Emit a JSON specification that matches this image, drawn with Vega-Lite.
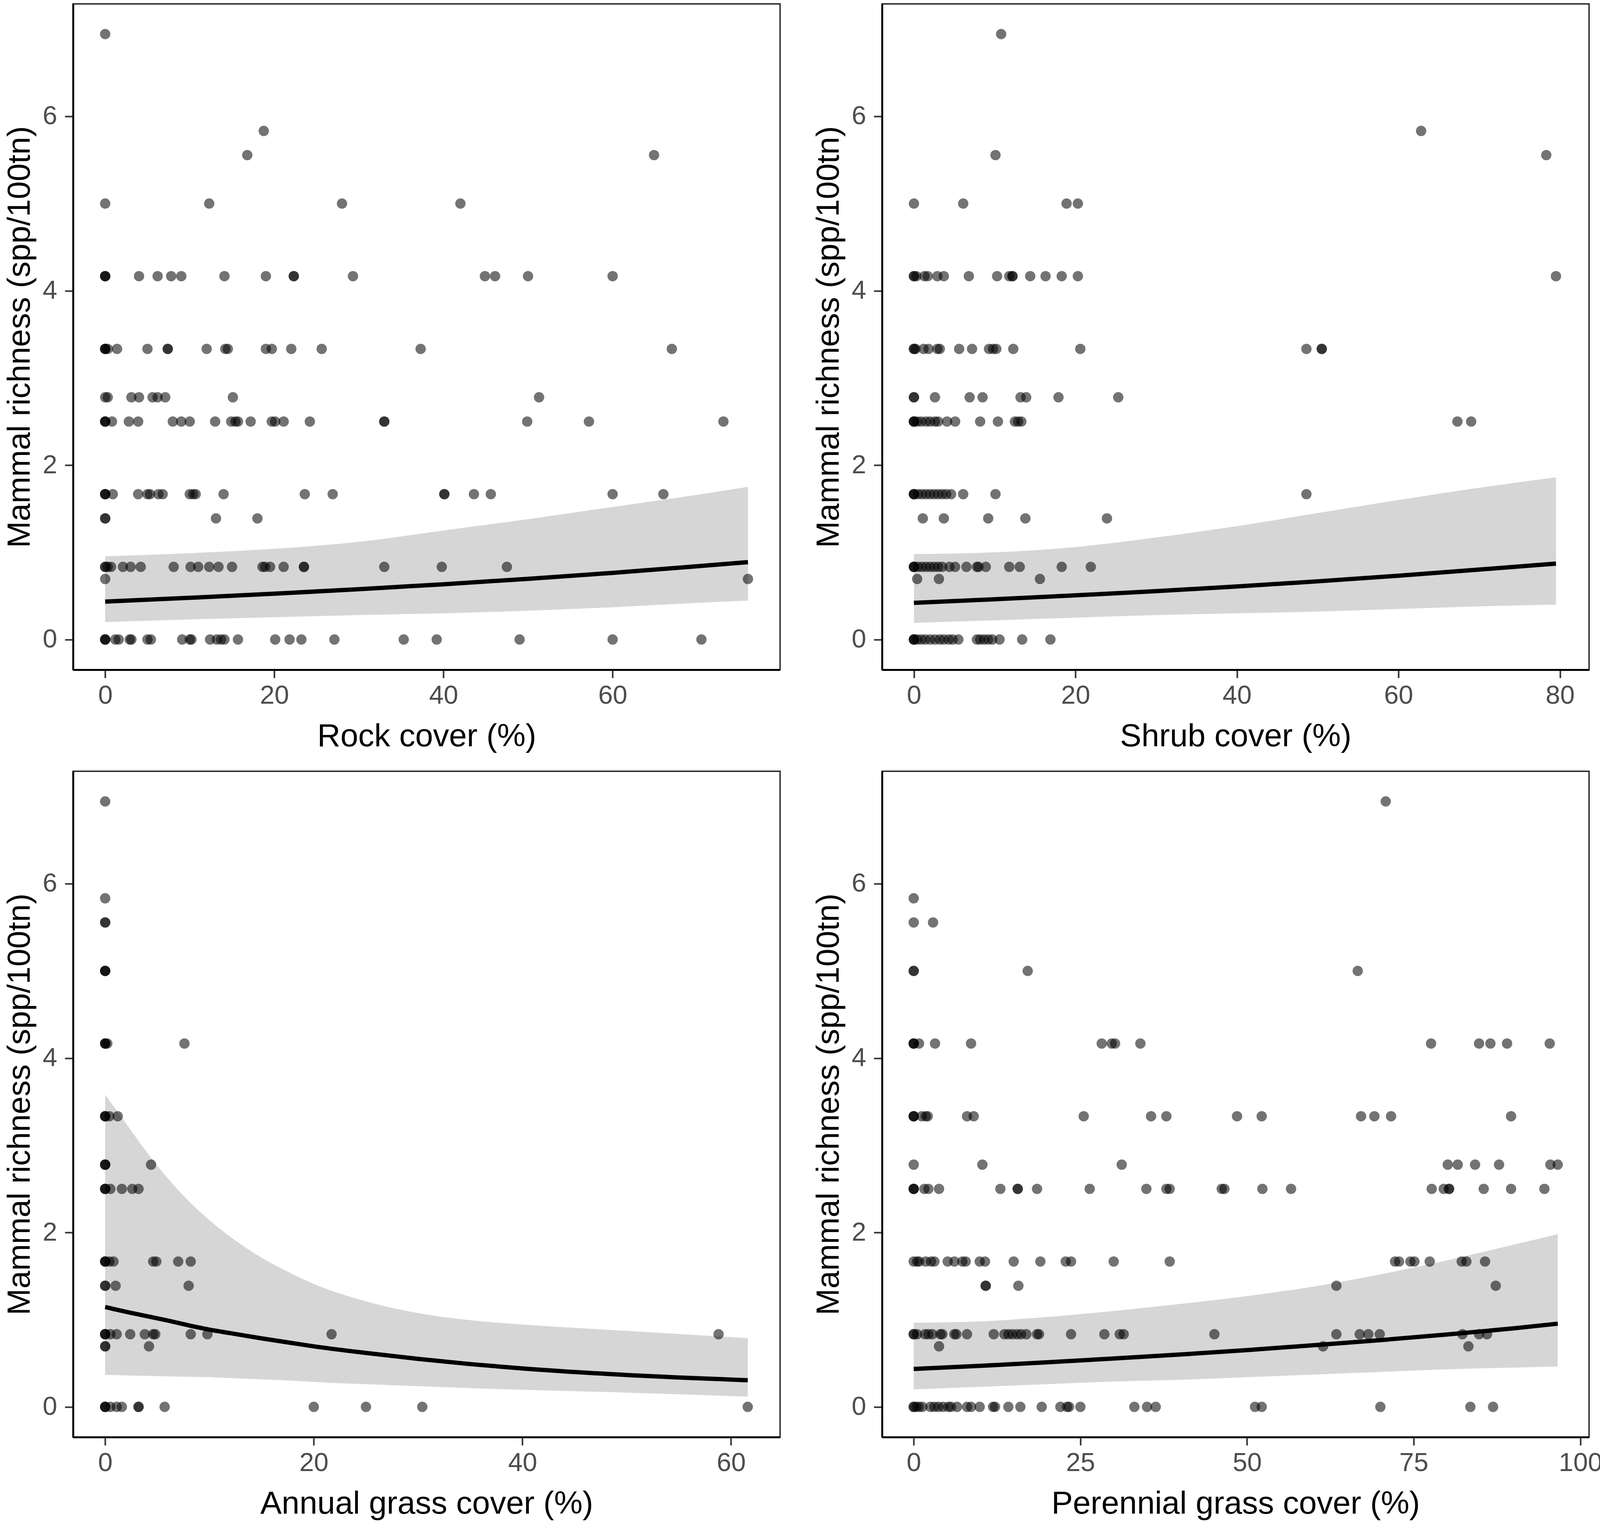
{
"$schema":"https://vega.github.io/schema/vega-lite/v6.json",
"background":"white",
"padding":{"left":8,"top":8,"right":2,"bottom":0},
"columns":2,
"spacing":{"row":45,"column":80},
"datasets":{
"pts":[
{"p":"r","x":0,"y":6.944},{"p":"r","x":18.75,"y":5.833},{"p":"r","x":16.8,"y":5.556},{"p":"r","x":64.9,"y":5.556},
{"p":"r","x":0,"y":5},{"p":"r","x":12.3,"y":5},{"p":"r","x":28,"y":5},{"p":"r","x":42,"y":5},
{"p":"r","x":0,"y":4.167},{"p":"r","x":0,"y":4.167},{"p":"r","x":0,"y":4.167},{"p":"r","x":4,"y":4.167},{"p":"r","x":6.2,"y":4.167},{"p":"r","x":7.8,"y":4.167},{"p":"r","x":9,"y":4.167},{"p":"r","x":14.1,"y":4.167},{"p":"r","x":19,"y":4.167},{"p":"r","x":22.3,"y":4.167},{"p":"r","x":22.3,"y":4.167},{"p":"r","x":29.3,"y":4.167},{"p":"r","x":44.9,"y":4.167},{"p":"r","x":46.1,"y":4.167},{"p":"r","x":50,"y":4.167},{"p":"r","x":60,"y":4.167},
{"p":"r","x":0,"y":3.333},{"p":"r","x":0,"y":3.333},{"p":"r","x":0,"y":3.333},{"p":"r","x":0.3,"y":3.333},{"p":"r","x":1.4,"y":3.333},{"p":"r","x":5,"y":3.333},{"p":"r","x":7.4,"y":3.333},{"p":"r","x":7.4,"y":3.333},{"p":"r","x":12,"y":3.333},{"p":"r","x":14.2,"y":3.333},{"p":"r","x":14.5,"y":3.333},{"p":"r","x":19,"y":3.333},{"p":"r","x":19.7,"y":3.333},{"p":"r","x":22,"y":3.333},{"p":"r","x":25.6,"y":3.333},{"p":"r","x":37.3,"y":3.333},{"p":"r","x":67,"y":3.333},
{"p":"r","x":0,"y":2.778},{"p":"r","x":0.3,"y":2.778},{"p":"r","x":3.1,"y":2.778},{"p":"r","x":4,"y":2.778},{"p":"r","x":5.6,"y":2.778},{"p":"r","x":6.2,"y":2.778},{"p":"r","x":7.1,"y":2.778},{"p":"r","x":15.1,"y":2.778},{"p":"r","x":51.3,"y":2.778},
{"p":"r","x":0,"y":2.5},{"p":"r","x":0,"y":2.5},{"p":"r","x":0,"y":2.5},{"p":"r","x":0.8,"y":2.5},{"p":"r","x":2.8,"y":2.5},{"p":"r","x":3.9,"y":2.5},{"p":"r","x":8,"y":2.5},{"p":"r","x":9,"y":2.5},{"p":"r","x":10,"y":2.5},{"p":"r","x":13,"y":2.5},{"p":"r","x":14.9,"y":2.5},{"p":"r","x":15.4,"y":2.5},{"p":"r","x":15.7,"y":2.5},{"p":"r","x":17.2,"y":2.5},{"p":"r","x":19.7,"y":2.5},{"p":"r","x":20.1,"y":2.5},{"p":"r","x":21.1,"y":2.5},{"p":"r","x":24.2,"y":2.5},{"p":"r","x":33,"y":2.5},{"p":"r","x":33,"y":2.5},{"p":"r","x":49.9,"y":2.5},{"p":"r","x":57.2,"y":2.5},{"p":"r","x":73.1,"y":2.5},
{"p":"r","x":0,"y":1.667},{"p":"r","x":0,"y":1.667},{"p":"r","x":0,"y":1.667},{"p":"r","x":0.9,"y":1.667},{"p":"r","x":3.9,"y":1.667},{"p":"r","x":5,"y":1.667},{"p":"r","x":5.3,"y":1.667},{"p":"r","x":6.3,"y":1.667},{"p":"r","x":6.8,"y":1.667},{"p":"r","x":10,"y":1.667},{"p":"r","x":10.4,"y":1.667},{"p":"r","x":10.7,"y":1.667},{"p":"r","x":14,"y":1.667},{"p":"r","x":23.6,"y":1.667},{"p":"r","x":26.9,"y":1.667},{"p":"r","x":40.1,"y":1.667},{"p":"r","x":40.1,"y":1.667},{"p":"r","x":43.6,"y":1.667},{"p":"r","x":45.6,"y":1.667},{"p":"r","x":60,"y":1.667},{"p":"r","x":66,"y":1.667},
{"p":"r","x":0,"y":1.389},{"p":"r","x":0,"y":1.389},{"p":"r","x":13.1,"y":1.389},{"p":"r","x":18,"y":1.389},
{"p":"r","x":0,"y":0.833},{"p":"r","x":0,"y":0.833},{"p":"r","x":0.3,"y":0.833},{"p":"r","x":0.7,"y":0.833},{"p":"r","x":2.1,"y":0.833},{"p":"r","x":3,"y":0.833},{"p":"r","x":4.2,"y":0.833},{"p":"r","x":8.1,"y":0.833},{"p":"r","x":10.1,"y":0.833},{"p":"r","x":11,"y":0.833},{"p":"r","x":12.3,"y":0.833},{"p":"r","x":13.4,"y":0.833},{"p":"r","x":15,"y":0.833},{"p":"r","x":18.6,"y":0.833},{"p":"r","x":18.9,"y":0.833},{"p":"r","x":19.5,"y":0.833},{"p":"r","x":21.1,"y":0.833},{"p":"r","x":23.5,"y":0.833},{"p":"r","x":23.5,"y":0.833},{"p":"r","x":33,"y":0.833},{"p":"r","x":39.8,"y":0.833},{"p":"r","x":47.5,"y":0.833},
{"p":"r","x":0,"y":0.694},{"p":"r","x":76,"y":0.694},
{"p":"r","x":0,"y":0},{"p":"r","x":0,"y":0},{"p":"r","x":0,"y":0},{"p":"r","x":1.2,"y":0},{"p":"r","x":1.6,"y":0},{"p":"r","x":2.9,"y":0},{"p":"r","x":3.1,"y":0},{"p":"r","x":5,"y":0},{"p":"r","x":5.4,"y":0},{"p":"r","x":9.1,"y":0},{"p":"r","x":10,"y":0},{"p":"r","x":10.2,"y":0},{"p":"r","x":12.4,"y":0},{"p":"r","x":13.2,"y":0},{"p":"r","x":13.7,"y":0},{"p":"r","x":14.1,"y":0},{"p":"r","x":15.7,"y":0},{"p":"r","x":20.1,"y":0},{"p":"r","x":21.8,"y":0},{"p":"r","x":23.2,"y":0},{"p":"r","x":27.1,"y":0},{"p":"r","x":35.3,"y":0},{"p":"r","x":39.2,"y":0},{"p":"r","x":49,"y":0},{"p":"r","x":60,"y":0},{"p":"r","x":70.5,"y":0},

{"p":"s","x":10.8,"y":6.944},{"p":"s","x":62.8,"y":5.833},{"p":"s","x":10.1,"y":5.556},{"p":"s","x":78.3,"y":5.556},
{"p":"s","x":0,"y":5},{"p":"s","x":6.1,"y":5},{"p":"s","x":18.9,"y":5},{"p":"s","x":20.3,"y":5},
{"p":"s","x":0,"y":4.167},{"p":"s","x":0,"y":4.167},{"p":"s","x":0.3,"y":4.167},{"p":"s","x":1.3,"y":4.167},{"p":"s","x":1.7,"y":4.167},{"p":"s","x":2.9,"y":4.167},{"p":"s","x":3.7,"y":4.167},{"p":"s","x":6.8,"y":4.167},{"p":"s","x":10.3,"y":4.167},{"p":"s","x":11.8,"y":4.167},{"p":"s","x":12.2,"y":4.167},{"p":"s","x":12.2,"y":4.167},{"p":"s","x":14.4,"y":4.167},{"p":"s","x":16.3,"y":4.167},{"p":"s","x":18.3,"y":4.167},{"p":"s","x":20.3,"y":4.167},{"p":"s","x":79.5,"y":4.167},
{"p":"s","x":0,"y":3.333},{"p":"s","x":0,"y":3.333},{"p":"s","x":0.2,"y":3.333},{"p":"s","x":1.2,"y":3.333},{"p":"s","x":1.8,"y":3.333},{"p":"s","x":2.9,"y":3.333},{"p":"s","x":3.2,"y":3.333},{"p":"s","x":5.6,"y":3.333},{"p":"s","x":7.2,"y":3.333},{"p":"s","x":9.3,"y":3.333},{"p":"s","x":9.8,"y":3.333},{"p":"s","x":10.2,"y":3.333},{"p":"s","x":12.3,"y":3.333},{"p":"s","x":20.6,"y":3.333},{"p":"s","x":48.6,"y":3.333},{"p":"s","x":50.5,"y":3.333},{"p":"s","x":50.5,"y":3.333},
{"p":"s","x":0,"y":2.778},{"p":"s","x":0,"y":2.778},{"p":"s","x":2.6,"y":2.778},{"p":"s","x":6.9,"y":2.778},{"p":"s","x":8.5,"y":2.778},{"p":"s","x":13.2,"y":2.778},{"p":"s","x":13.9,"y":2.778},{"p":"s","x":17.9,"y":2.778},{"p":"s","x":25.3,"y":2.778},
{"p":"s","x":0,"y":2.5},{"p":"s","x":0,"y":2.5},{"p":"s","x":0,"y":2.5},{"p":"s","x":0.4,"y":2.5},{"p":"s","x":0.9,"y":2.5},{"p":"s","x":1.5,"y":2.5},{"p":"s","x":2,"y":2.5},{"p":"s","x":2.6,"y":2.5},{"p":"s","x":3,"y":2.5},{"p":"s","x":4.1,"y":2.5},{"p":"s","x":5.1,"y":2.5},{"p":"s","x":8.2,"y":2.5},{"p":"s","x":10.4,"y":2.5},{"p":"s","x":12.5,"y":2.5},{"p":"s","x":12.9,"y":2.5},{"p":"s","x":13.3,"y":2.5},{"p":"s","x":67.3,"y":2.5},{"p":"s","x":69,"y":2.5},
{"p":"s","x":0,"y":1.667},{"p":"s","x":0,"y":1.667},{"p":"s","x":0,"y":1.667},{"p":"s","x":0.5,"y":1.667},{"p":"s","x":1,"y":1.667},{"p":"s","x":1.5,"y":1.667},{"p":"s","x":2,"y":1.667},{"p":"s","x":2.5,"y":1.667},{"p":"s","x":3,"y":1.667},{"p":"s","x":3.5,"y":1.667},{"p":"s","x":4,"y":1.667},{"p":"s","x":4.6,"y":1.667},{"p":"s","x":6.1,"y":1.667},{"p":"s","x":10.1,"y":1.667},{"p":"s","x":48.6,"y":1.667},
{"p":"s","x":1.1,"y":1.389},{"p":"s","x":3.7,"y":1.389},{"p":"s","x":9.2,"y":1.389},{"p":"s","x":13.8,"y":1.389},{"p":"s","x":23.9,"y":1.389},
{"p":"s","x":0,"y":0.833},{"p":"s","x":0,"y":0.833},{"p":"s","x":0,"y":0.833},{"p":"s","x":0.5,"y":0.833},{"p":"s","x":1,"y":0.833},{"p":"s","x":1.5,"y":0.833},{"p":"s","x":2,"y":0.833},{"p":"s","x":2.5,"y":0.833},{"p":"s","x":3,"y":0.833},{"p":"s","x":3.5,"y":0.833},{"p":"s","x":4.4,"y":0.833},{"p":"s","x":5.1,"y":0.833},{"p":"s","x":6.5,"y":0.833},{"p":"s","x":7.8,"y":0.833},{"p":"s","x":8,"y":0.833},{"p":"s","x":8.9,"y":0.833},{"p":"s","x":11.8,"y":0.833},{"p":"s","x":13.1,"y":0.833},{"p":"s","x":18.3,"y":0.833},{"p":"s","x":21.9,"y":0.833},
{"p":"s","x":0.4,"y":0.694},{"p":"s","x":3.1,"y":0.694},{"p":"s","x":15.6,"y":0.694},
{"p":"s","x":0,"y":0},{"p":"s","x":0,"y":0},{"p":"s","x":0,"y":0},{"p":"s","x":0.4,"y":0},{"p":"s","x":0.9,"y":0},{"p":"s","x":1.4,"y":0},{"p":"s","x":2,"y":0},{"p":"s","x":2.6,"y":0},{"p":"s","x":3.2,"y":0},{"p":"s","x":3.7,"y":0},{"p":"s","x":4.3,"y":0},{"p":"s","x":4.8,"y":0},{"p":"s","x":5.5,"y":0},{"p":"s","x":7.8,"y":0},{"p":"s","x":8.2,"y":0},{"p":"s","x":8.7,"y":0},{"p":"s","x":9.2,"y":0},{"p":"s","x":9.7,"y":0},{"p":"s","x":10.6,"y":0},{"p":"s","x":13.4,"y":0},{"p":"s","x":16.9,"y":0},

{"p":"a","x":0,"y":6.944},{"p":"a","x":0,"y":5.833},{"p":"a","x":0,"y":5.556},{"p":"a","x":0,"y":5.556},
{"p":"a","x":0,"y":5},{"p":"a","x":0,"y":5},{"p":"a","x":0,"y":5},
{"p":"a","x":0,"y":4.167},{"p":"a","x":0,"y":4.167},{"p":"a","x":0,"y":4.167},{"p":"a","x":0.2,"y":4.167},{"p":"a","x":7.6,"y":4.167},
{"p":"a","x":0,"y":3.333},{"p":"a","x":0,"y":3.333},{"p":"a","x":0,"y":3.333},{"p":"a","x":0.4,"y":3.333},{"p":"a","x":1.2,"y":3.333},
{"p":"a","x":0,"y":2.778},{"p":"a","x":0,"y":2.778},{"p":"a","x":0,"y":2.778},{"p":"a","x":4.4,"y":2.778},
{"p":"a","x":0,"y":2.5},{"p":"a","x":0,"y":2.5},{"p":"a","x":0,"y":2.5},{"p":"a","x":0.5,"y":2.5},{"p":"a","x":1.6,"y":2.5},{"p":"a","x":2.6,"y":2.5},{"p":"a","x":3.2,"y":2.5},
{"p":"a","x":0,"y":1.667},{"p":"a","x":0,"y":1.667},{"p":"a","x":0,"y":1.667},{"p":"a","x":0.4,"y":1.667},{"p":"a","x":0.8,"y":1.667},{"p":"a","x":4.6,"y":1.667},{"p":"a","x":4.9,"y":1.667},{"p":"a","x":7,"y":1.667},{"p":"a","x":8.2,"y":1.667},
{"p":"a","x":0,"y":1.389},{"p":"a","x":0,"y":1.389},{"p":"a","x":1,"y":1.389},{"p":"a","x":8,"y":1.389},
{"p":"a","x":0,"y":0.833},{"p":"a","x":0,"y":0.833},{"p":"a","x":0,"y":0.833},{"p":"a","x":0.5,"y":0.833},{"p":"a","x":1.1,"y":0.833},{"p":"a","x":2.4,"y":0.833},{"p":"a","x":3.8,"y":0.833},{"p":"a","x":4.6,"y":0.833},{"p":"a","x":4.8,"y":0.833},{"p":"a","x":8.2,"y":0.833},{"p":"a","x":9.8,"y":0.833},{"p":"a","x":21.7,"y":0.833},{"p":"a","x":58.8,"y":0.833},
{"p":"a","x":0,"y":0.694},{"p":"a","x":0,"y":0.694},{"p":"a","x":4.2,"y":0.694},
{"p":"a","x":0,"y":0},{"p":"a","x":0,"y":0},{"p":"a","x":0,"y":0},{"p":"a","x":0.5,"y":0},{"p":"a","x":1.1,"y":0},{"p":"a","x":1.6,"y":0},{"p":"a","x":3.2,"y":0},{"p":"a","x":3.2,"y":0},{"p":"a","x":5.7,"y":0},{"p":"a","x":20,"y":0},{"p":"a","x":25,"y":0},{"p":"a","x":30.4,"y":0},{"p":"a","x":61.6,"y":0},

{"p":"g","x":70.8,"y":6.944},{"p":"g","x":0,"y":5.833},{"p":"g","x":0,"y":5.556},{"p":"g","x":2.9,"y":5.556},
{"p":"g","x":0,"y":5},{"p":"g","x":0,"y":5},{"p":"g","x":17.1,"y":5},{"p":"g","x":66.6,"y":5},
{"p":"g","x":0,"y":4.167},{"p":"g","x":0,"y":4.167},{"p":"g","x":0,"y":4.167},{"p":"g","x":0.8,"y":4.167},{"p":"g","x":3.2,"y":4.167},{"p":"g","x":8.6,"y":4.167},{"p":"g","x":28.2,"y":4.167},{"p":"g","x":29.7,"y":4.167},{"p":"g","x":30.2,"y":4.167},{"p":"g","x":34,"y":4.167},{"p":"g","x":77.6,"y":4.167},{"p":"g","x":84.8,"y":4.167},{"p":"g","x":86.5,"y":4.167},{"p":"g","x":89,"y":4.167},{"p":"g","x":95.4,"y":4.167},
{"p":"g","x":0,"y":3.333},{"p":"g","x":0,"y":3.333},{"p":"g","x":0,"y":3.333},{"p":"g","x":1.2,"y":3.333},{"p":"g","x":1.8,"y":3.333},{"p":"g","x":2.1,"y":3.333},{"p":"g","x":8,"y":3.333},{"p":"g","x":9,"y":3.333},{"p":"g","x":25.5,"y":3.333},{"p":"g","x":35.6,"y":3.333},{"p":"g","x":37.9,"y":3.333},{"p":"g","x":48.5,"y":3.333},{"p":"g","x":52.2,"y":3.333},{"p":"g","x":67.1,"y":3.333},{"p":"g","x":69.1,"y":3.333},{"p":"g","x":71.6,"y":3.333},{"p":"g","x":89.6,"y":3.333},
{"p":"g","x":0,"y":2.778},{"p":"g","x":10.3,"y":2.778},{"p":"g","x":31.2,"y":2.778},{"p":"g","x":80.1,"y":2.778},{"p":"g","x":81.6,"y":2.778},{"p":"g","x":84.2,"y":2.778},{"p":"g","x":87.8,"y":2.778},{"p":"g","x":95.5,"y":2.778},{"p":"g","x":96.6,"y":2.778},
{"p":"g","x":0,"y":2.5},{"p":"g","x":0,"y":2.5},{"p":"g","x":0,"y":2.5},{"p":"g","x":1.6,"y":2.5},{"p":"g","x":2.2,"y":2.5},{"p":"g","x":3.8,"y":2.5},{"p":"g","x":13,"y":2.5},{"p":"g","x":15.6,"y":2.5},{"p":"g","x":15.6,"y":2.5},{"p":"g","x":18.5,"y":2.5},{"p":"g","x":26.4,"y":2.5},{"p":"g","x":34.9,"y":2.5},{"p":"g","x":37.9,"y":2.5},{"p":"g","x":38.4,"y":2.5},{"p":"g","x":46.2,"y":2.5},{"p":"g","x":46.6,"y":2.5},{"p":"g","x":52.3,"y":2.5},{"p":"g","x":56.6,"y":2.5},{"p":"g","x":77.7,"y":2.5},{"p":"g","x":79.5,"y":2.5},{"p":"g","x":80.3,"y":2.5},{"p":"g","x":80.3,"y":2.5},{"p":"g","x":85.5,"y":2.5},{"p":"g","x":89.6,"y":2.5},{"p":"g","x":94.6,"y":2.5},
{"p":"g","x":0,"y":1.667},{"p":"g","x":0.5,"y":1.667},{"p":"g","x":0.8,"y":1.667},{"p":"g","x":1.8,"y":1.667},{"p":"g","x":2.6,"y":1.667},{"p":"g","x":3.1,"y":1.667},{"p":"g","x":5.1,"y":1.667},{"p":"g","x":6.1,"y":1.667},{"p":"g","x":7.3,"y":1.667},{"p":"g","x":7.8,"y":1.667},{"p":"g","x":9.9,"y":1.667},{"p":"g","x":10.7,"y":1.667},{"p":"g","x":15,"y":1.667},{"p":"g","x":19,"y":1.667},{"p":"g","x":22.8,"y":1.667},{"p":"g","x":23.6,"y":1.667},{"p":"g","x":30,"y":1.667},{"p":"g","x":38.4,"y":1.667},{"p":"g","x":72.2,"y":1.667},{"p":"g","x":72.8,"y":1.667},{"p":"g","x":74.5,"y":1.667},{"p":"g","x":75.1,"y":1.667},{"p":"g","x":77.4,"y":1.667},{"p":"g","x":82.2,"y":1.667},{"p":"g","x":82.9,"y":1.667},{"p":"g","x":85.7,"y":1.667},
{"p":"g","x":10.8,"y":1.389},{"p":"g","x":10.8,"y":1.389},{"p":"g","x":15.7,"y":1.389},{"p":"g","x":63.4,"y":1.389},{"p":"g","x":87.3,"y":1.389},
{"p":"g","x":0,"y":0.833},{"p":"g","x":0,"y":0.833},{"p":"g","x":0.5,"y":0.833},{"p":"g","x":1.7,"y":0.833},{"p":"g","x":2.2,"y":0.833},{"p":"g","x":2.8,"y":0.833},{"p":"g","x":4,"y":0.833},{"p":"g","x":4.3,"y":0.833},{"p":"g","x":6.1,"y":0.833},{"p":"g","x":6.4,"y":0.833},{"p":"g","x":8,"y":0.833},{"p":"g","x":12,"y":0.833},{"p":"g","x":13.6,"y":0.833},{"p":"g","x":14.2,"y":0.833},{"p":"g","x":14.8,"y":0.833},{"p":"g","x":15.5,"y":0.833},{"p":"g","x":16.1,"y":0.833},{"p":"g","x":16.9,"y":0.833},{"p":"g","x":18.5,"y":0.833},{"p":"g","x":18.8,"y":0.833},{"p":"g","x":23.6,"y":0.833},{"p":"g","x":28.6,"y":0.833},{"p":"g","x":30.9,"y":0.833},{"p":"g","x":31.5,"y":0.833},{"p":"g","x":45.1,"y":0.833},{"p":"g","x":63.4,"y":0.833},{"p":"g","x":66.9,"y":0.833},{"p":"g","x":68.2,"y":0.833},{"p":"g","x":69.9,"y":0.833},{"p":"g","x":82.3,"y":0.833},{"p":"g","x":84.8,"y":0.833},{"p":"g","x":86,"y":0.833},
{"p":"g","x":3.8,"y":0.694},{"p":"g","x":61.4,"y":0.694},{"p":"g","x":83.2,"y":0.694},
{"p":"g","x":0,"y":0},{"p":"g","x":0,"y":0},{"p":"g","x":0.4,"y":0},{"p":"g","x":0.8,"y":0},{"p":"g","x":1.3,"y":0},{"p":"g","x":2.5,"y":0},{"p":"g","x":3.1,"y":0},{"p":"g","x":3.7,"y":0},{"p":"g","x":4.4,"y":0},{"p":"g","x":5.2,"y":0},{"p":"g","x":5.6,"y":0},{"p":"g","x":6.5,"y":0},{"p":"g","x":8,"y":0},{"p":"g","x":8.6,"y":0},{"p":"g","x":9.9,"y":0},{"p":"g","x":11.9,"y":0},{"p":"g","x":12.2,"y":0},{"p":"g","x":14.2,"y":0},{"p":"g","x":16,"y":0},{"p":"g","x":19.2,"y":0},{"p":"g","x":22,"y":0},{"p":"g","x":23,"y":0},{"p":"g","x":23.3,"y":0},{"p":"g","x":25,"y":0},{"p":"g","x":33.1,"y":0},{"p":"g","x":35,"y":0},{"p":"g","x":36.3,"y":0},{"p":"g","x":51.2,"y":0},{"p":"g","x":52.2,"y":0},{"p":"g","x":70,"y":0},{"p":"g","x":83.5,"y":0},{"p":"g","x":86.9,"y":0}
],
"fits":[
{"p":"r","x":0,"fit":0.435,"lo":0.2,"hi":0.954},{"p":"r","x":10,"fit":0.478,"lo":0.23,"hi":0.99},{"p":"r","x":20,"fit":0.525,"lo":0.255,"hi":1.04},{"p":"r","x":30,"fit":0.577,"lo":0.28,"hi":1.12},{"p":"r","x":40,"fit":0.633,"lo":0.3,"hi":1.25},{"p":"r","x":50,"fit":0.696,"lo":0.33,"hi":1.38},{"p":"r","x":60,"fit":0.764,"lo":0.37,"hi":1.52},{"p":"r","x":70,"fit":0.84,"lo":0.42,"hi":1.66},{"p":"r","x":76,"fit":0.887,"lo":0.446,"hi":1.75},
{"p":"s","x":0,"fit":0.42,"lo":0.19,"hi":0.98},{"p":"s","x":10,"fit":0.461,"lo":0.22,"hi":1.0},{"p":"s","x":20,"fit":0.506,"lo":0.25,"hi":1.06},{"p":"s","x":30,"fit":0.554,"lo":0.28,"hi":1.17},{"p":"s","x":40,"fit":0.608,"lo":0.3,"hi":1.3},{"p":"s","x":50,"fit":0.667,"lo":0.32,"hi":1.45},{"p":"s","x":60,"fit":0.731,"lo":0.35,"hi":1.6},{"p":"s","x":70,"fit":0.802,"lo":0.38,"hi":1.74},{"p":"s","x":79.5,"fit":0.87,"lo":0.4,"hi":1.86},
{"p":"a","x":0,"fit":1.145,"lo":0.367,"hi":3.58},{"p":"a","x":2,"fit":1.09,"lo":0.36,"hi":3.25},{"p":"a","x":4,"fit":1.04,"lo":0.355,"hi":2.92},{"p":"a","x":6,"fit":0.99,"lo":0.35,"hi":2.62},{"p":"a","x":8,"fit":0.935,"lo":0.345,"hi":2.36},{"p":"a","x":10,"fit":0.885,"lo":0.34,"hi":2.14},{"p":"a","x":12,"fit":0.845,"lo":0.33,"hi":1.95},{"p":"a","x":15,"fit":0.785,"lo":0.315,"hi":1.71},{"p":"a","x":18,"fit":0.73,"lo":0.3,"hi":1.52},{"p":"a","x":20,"fit":0.694,"lo":0.286,"hi":1.41},{"p":"a","x":25,"fit":0.618,"lo":0.26,"hi":1.21},{"p":"a","x":30,"fit":0.55,"lo":0.237,"hi":1.075},{"p":"a","x":35,"fit":0.49,"lo":0.215,"hi":0.993},{"p":"a","x":40,"fit":0.44,"lo":0.196,"hi":0.944},{"p":"a","x":50,"fit":0.365,"lo":0.163,"hi":0.871},{"p":"a","x":61.6,"fit":0.305,"lo":0.117,"hi":0.789},
{"p":"g","x":0,"fit":0.435,"lo":0.2,"hi":0.965},{"p":"g","x":10,"fit":0.47,"lo":0.23,"hi":0.98},{"p":"g","x":20,"fit":0.511,"lo":0.26,"hi":1.03},{"p":"g","x":30,"fit":0.554,"lo":0.29,"hi":1.1},{"p":"g","x":40,"fit":0.6,"lo":0.31,"hi":1.18},{"p":"g","x":50,"fit":0.651,"lo":0.34,"hi":1.27},{"p":"g","x":60,"fit":0.707,"lo":0.37,"hi":1.38},{"p":"g","x":70,"fit":0.765,"lo":0.4,"hi":1.52},{"p":"g","x":80,"fit":0.83,"lo":0.43,"hi":1.68},{"p":"g","x":90,"fit":0.9,"lo":0.45,"hi":1.86},{"p":"g","x":96.6,"fit":0.954,"lo":0.463,"hi":1.98}
]
},
"concat":[
{"width":1810,"height":1705,"layer":[
{"data":{"name":"fits"},"transform":[{"filter":"datum.p==='r'"}],"mark":{"type":"area","color":"#d6d6d6","interpolate":"monotone"},
"encoding":{"x":{"field":"x","type":"quantitative","title":"Rock cover (%)","scale":{"domain":[-3.8,79.8],"nice":false,"zero":false},"axis":{"values":[0,20,40,60]}},
"y":{"field":"lo","type":"quantitative","title":"Mammal richness (spp/100tn)","scale":{"domain":[-0.347,7.29],"nice":false,"zero":false},"axis":{"values":[0,2,4,6],"format":"d"}},"y2":{"field":"hi"}}},
{"data":{"name":"pts"},"transform":[{"filter":"datum.p==='r'"}],"mark":{"type":"circle","color":"#000000","opacity":0.55,"size":700},
"encoding":{"x":{"field":"x","type":"quantitative","title":"Rock cover (%)"},"y":{"field":"y","type":"quantitative","title":"Mammal richness (spp/100tn)"}}},
{"data":{"name":"fits"},"transform":[{"filter":"datum.p==='r'"}],"mark":{"type":"line","color":"#000000","strokeWidth":11,"interpolate":"monotone"},
"encoding":{"x":{"field":"x","type":"quantitative","title":"Rock cover (%)"},"y":{"field":"fit","type":"quantitative","title":"Mammal richness (spp/100tn)"}}}
]},
{"width":1810,"height":1705,"layer":[
{"data":{"name":"fits"},"transform":[{"filter":"datum.p==='s'"}],"mark":{"type":"area","color":"#d6d6d6","interpolate":"monotone"},
"encoding":{"x":{"field":"x","type":"quantitative","title":"Shrub cover (%)","scale":{"domain":[-3.95,83.6],"nice":false,"zero":false},"axis":{"values":[0,20,40,60,80]}},
"y":{"field":"lo","type":"quantitative","title":"Mammal richness (spp/100tn)","scale":{"domain":[-0.347,7.29],"nice":false,"zero":false},"axis":{"values":[0,2,4,6],"format":"d"}},"y2":{"field":"hi"}}},
{"data":{"name":"pts"},"transform":[{"filter":"datum.p==='s'"}],"mark":{"type":"circle","color":"#000000","opacity":0.55,"size":700},
"encoding":{"x":{"field":"x","type":"quantitative","title":"Shrub cover (%)"},"y":{"field":"y","type":"quantitative","title":"Mammal richness (spp/100tn)"}}},
{"data":{"name":"fits"},"transform":[{"filter":"datum.p==='s'"}],"mark":{"type":"line","color":"#000000","strokeWidth":11,"interpolate":"monotone"},
"encoding":{"x":{"field":"x","type":"quantitative","title":"Shrub cover (%)"},"y":{"field":"fit","type":"quantitative","title":"Mammal richness (spp/100tn)"}}}
]},
{"width":1810,"height":1705,"layer":[
{"data":{"name":"fits"},"transform":[{"filter":"datum.p==='a'"}],"mark":{"type":"area","color":"#d6d6d6","interpolate":"monotone"},
"encoding":{"x":{"field":"x","type":"quantitative","title":"Annual grass cover (%)","scale":{"domain":[-3.08,64.7],"nice":false,"zero":false},"axis":{"values":[0,20,40,60]}},
"y":{"field":"lo","type":"quantitative","title":"Mammal richness (spp/100tn)","scale":{"domain":[-0.347,7.29],"nice":false,"zero":false},"axis":{"values":[0,2,4,6],"format":"d"}},"y2":{"field":"hi"}}},
{"data":{"name":"pts"},"transform":[{"filter":"datum.p==='a'"}],"mark":{"type":"circle","color":"#000000","opacity":0.55,"size":700},
"encoding":{"x":{"field":"x","type":"quantitative","title":"Annual grass cover (%)"},"y":{"field":"y","type":"quantitative","title":"Mammal richness (spp/100tn)"}}},
{"data":{"name":"fits"},"transform":[{"filter":"datum.p==='a'"}],"mark":{"type":"line","color":"#000000","strokeWidth":11,"interpolate":"monotone"},
"encoding":{"x":{"field":"x","type":"quantitative","title":"Annual grass cover (%)"},"y":{"field":"fit","type":"quantitative","title":"Mammal richness (spp/100tn)"}}}
]},
{"width":1810,"height":1705,"layer":[
{"data":{"name":"fits"},"transform":[{"filter":"datum.p==='g'"}],"mark":{"type":"area","color":"#d6d6d6","interpolate":"monotone"},
"encoding":{"x":{"field":"x","type":"quantitative","title":"Perennial grass cover (%)","scale":{"domain":[-4.75,101.3],"nice":false,"zero":false},"axis":{"values":[0,25,50,75,100]}},
"y":{"field":"lo","type":"quantitative","title":"Mammal richness (spp/100tn)","scale":{"domain":[-0.347,7.29],"nice":false,"zero":false},"axis":{"values":[0,2,4,6],"format":"d"}},"y2":{"field":"hi"}}},
{"data":{"name":"pts"},"transform":[{"filter":"datum.p==='g'"}],"mark":{"type":"circle","color":"#000000","opacity":0.55,"size":700},
"encoding":{"x":{"field":"x","type":"quantitative","title":"Perennial grass cover (%)"},"y":{"field":"y","type":"quantitative","title":"Mammal richness (spp/100tn)"}}},
{"data":{"name":"fits"},"transform":[{"filter":"datum.p==='g'"}],"mark":{"type":"line","color":"#000000","strokeWidth":11,"interpolate":"monotone"},
"encoding":{"x":{"field":"x","type":"quantitative","title":"Perennial grass cover (%)"},"y":{"field":"fit","type":"quantitative","title":"Mammal richness (spp/100tn)"}}}
]}
],
"config":{
"view":{"stroke":"#222222","strokeWidth":3.4},
"axis":{"grid":false,"domainColor":"#000000","domainWidth":5,"tickColor":"#333333","tickWidth":4,"tickSize":21,
"labelFont":"Liberation Sans","labelFontSize":67,"labelColor":"#4d4d4d",
"titleFont":"Liberation Sans","titleFontSize":82,"titleFontWeight":"normal","titleColor":"#000000"},
"axisX":{"labelPadding":12,"titlePadding":31},
"axisY":{"labelPadding":20,"titlePadding":16}
}
}
